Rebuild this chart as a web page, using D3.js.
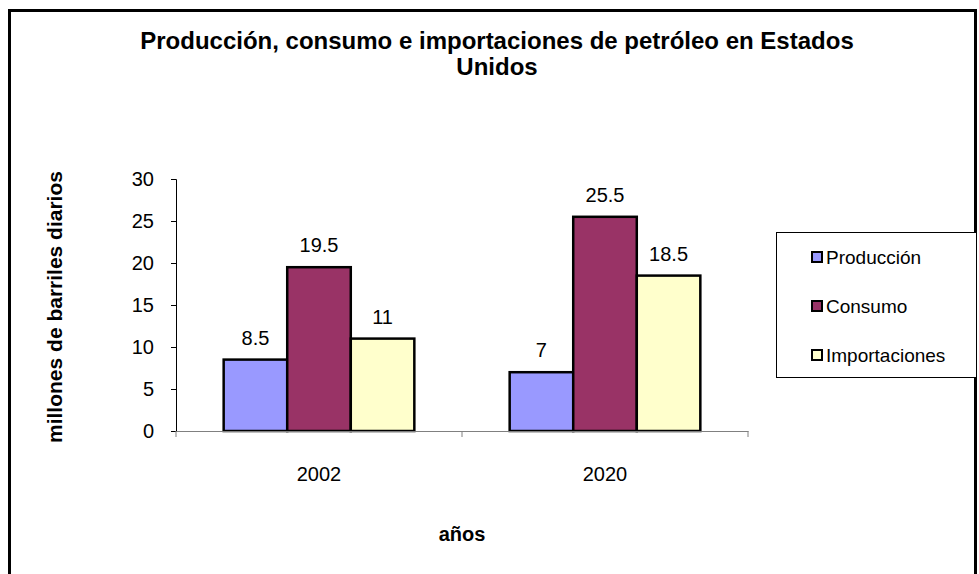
<!DOCTYPE html>
<html>
<head>
<meta charset="utf-8">
<title>Petróleo en Estados Unidos</title>
<script src="https://d3js.org/d3.v7.min.js"></script>
<style>
  body { margin:0; background:#fff; }
  svg { display:block; font-family: "Liberation Sans", Arial, sans-serif; }
</style>
</head>
<body>
<script>
var years = ["2002", "2020"];
var seriesNames = ["Producción", "Consumo", "Importaciones"];
var produccion = [8.5, 7];
var consumo = [19.5, 25.5];
var importaciones = [11, 18.5];
var yTicks = [0, 5, 10, 15, 20, 25, 30];
var colors = ["#9999FF", "#993366", "#FFFFCC"];

var width = 979, height = 574;
var svg = d3.select("body").append("svg")
    .attr("width", width)
    .attr("height", height);

// outer chart frame
svg.append("rect")
    .attr("x", 9.5).attr("y", 10.5)
    .attr("width", 966).attr("height", 600)
    .attr("fill", "none").attr("stroke", "#000").attr("stroke-width", 3);

var plot = {left: 176, right: 748, top: 179, bottom: 431};

var x0 = d3.scaleBand().domain(years).range([plot.left, plot.right]).paddingInner(0).paddingOuter(0);
// gap width 150% -> group takes 3/(3+1.5) of the band
var x1 = d3.scaleBand().domain(seriesNames).range([0, x0.bandwidth() * 3 / 4.5]);
var y = d3.scaleLinear().domain([0, 30]).range([plot.bottom, plot.top]);

var rows = years.map(function(yr, i) {
  return {year: yr, values: [produccion[i], consumo[i], importaciones[i]]};
});

var groupOffset = (x0.bandwidth() - x1.range()[1]) / 2;

// y axis
var yAxis = svg.append("g")
    .attr("transform", "translate(" + plot.left + ",0)")
    .call(d3.axisLeft(y).tickValues(yTicks).tickSize(5).tickPadding(17));
yAxis.select(".domain").attr("stroke", "#000");
yAxis.selectAll(".tick line").attr("stroke", "#000");
yAxis.selectAll("text").attr("font-size", 20).attr("fill", "#000")
    .attr("font-family", "Liberation Sans, Arial, sans-serif");

// bars
var groups = svg.selectAll(".grp").data(rows).enter().append("g")
    .attr("class", "grp")
    .attr("transform", function(d) { return "translate(" + (x0(d.year) + groupOffset) + ",0)"; });

groups.selectAll("rect").data(function(d) { return d.values.map(function(v, j) { return {name: seriesNames[j], v: v, j: j}; }); })
  .enter().append("rect")
    .attr("x", function(d) { return x1(d.name); })
    .attr("y", function(d) { return y(d.v); })
    .attr("width", x1.bandwidth())
    .attr("height", function(d) { return y(0) - y(d.v); })
    .attr("fill", function(d) { return colors[d.j]; })
    .attr("stroke", "#000").attr("stroke-width", 2.5);

groups.selectAll(".lbl").data(function(d) { return d.values.map(function(v, j) { return {name: seriesNames[j], v: v}; }); })
  .enter().append("text")
    .attr("class", "lbl")
    .attr("x", function(d) { return x1(d.name) + x1.bandwidth() / 2; })
    .attr("y", function(d) { return y(d.v) - 15; })
    .attr("text-anchor", "middle")
    .attr("font-size", 20)
    .text(function(d) { return d.v; });

// x axis
var xAxis = svg.append("g")
    .attr("transform", "translate(0," + plot.bottom + ")")
    .call(d3.axisBottom(x0).tickSize(0).tickPadding(36));
xAxis.select(".domain").attr("stroke", "#808080");
xAxis.selectAll("text").attr("font-size", 20).attr("fill", "#000")
    .attr("font-family", "Liberation Sans, Arial, sans-serif");
// category separators
xAxis.selectAll(".sep").data([plot.left, plot.left + x0.bandwidth(), plot.right])
  .enter().append("line")
    .attr("x1", function(d) { return d; }).attr("x2", function(d) { return d; })
    .attr("y1", 0).attr("y2", 6)
    .attr("stroke", "#808080");

// titles
var title = svg.append("text")
    .attr("x", 497).attr("y", 49)
    .attr("text-anchor", "middle")
    .attr("font-size", 24).attr("font-weight", "bold");
title.append("tspan").attr("x", 497).text("Producción, consumo e importaciones de petróleo en Estados");
title.append("tspan").attr("x", 497).attr("dy", 26).text("Unidos");

svg.append("text")
    .attr("transform", "translate(62,307) rotate(-90)")
    .attr("text-anchor", "middle")
    .attr("font-size", 21).attr("font-weight", "bold")
    .text("millones de barriles diarios");

svg.append("text")
    .attr("x", 462).attr("y", 541)
    .attr("text-anchor", "middle")
    .attr("font-size", 20).attr("font-weight", "bold")
    .text("años");

// legend
var legend = svg.append("g");
legend.append("rect")
    .attr("x", 776.5).attr("y", 232.5)
    .attr("width", 200).attr("height", 145)
    .attr("fill", "#fff").attr("stroke", "#000").attr("stroke-width", 1);

var items = legend.selectAll(".item").data(seriesNames).enter().append("g")
    .attr("transform", function(d, i) { return "translate(812," + (257 + i * 49) + ")"; });
items.append("rect")
    .attr("x", 0).attr("y", -5).attr("width", 10).attr("height", 10)
    .attr("fill", function(d, i) { return colors[i]; })
    .attr("stroke", "#000").attr("stroke-width", 2);
items.append("text")
    .attr("x", 14).attr("y", 7)
    .attr("font-size", 19)
    .text(function(d) { return d; });
</script>
</body>
</html>
